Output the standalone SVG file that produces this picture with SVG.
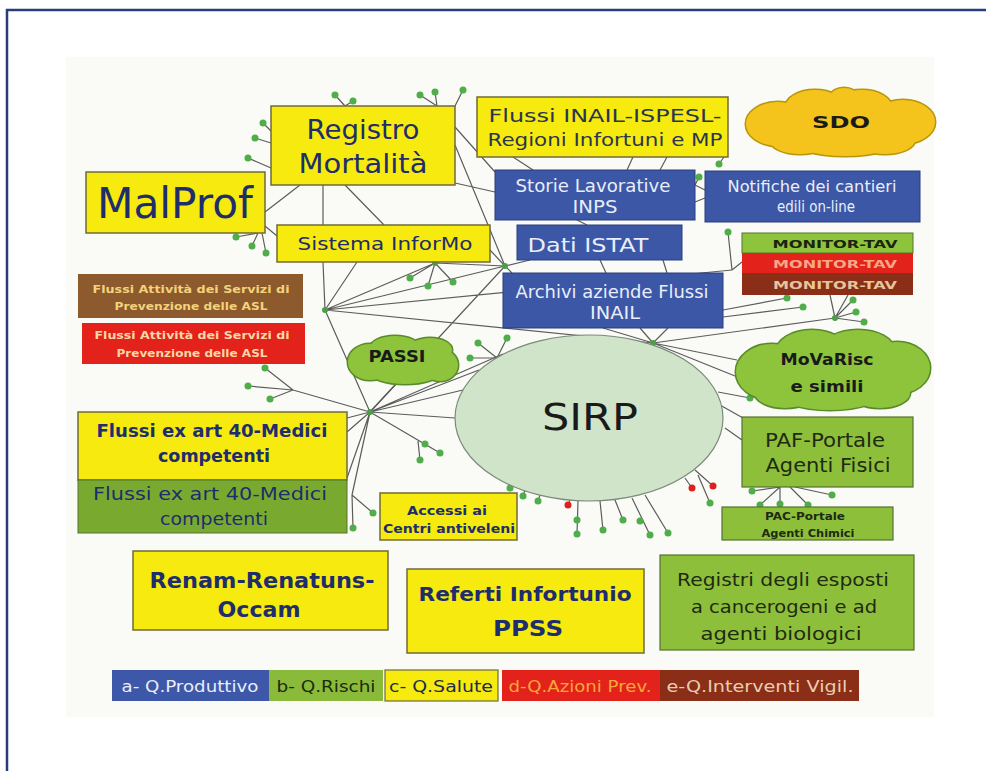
<svg xmlns="http://www.w3.org/2000/svg" width="986" height="771" viewBox="0 0 986 771">
<style>
text{font-family:"DejaVu Sans","Liberation Sans",sans-serif;text-anchor:middle}
.ln{stroke:#5c5c5c;stroke-width:1.2;fill:none}
.dot{fill:#4fae4a}
.hub{fill:#4a9e44}
.rdot{fill:#e0201c}
.yb{fill:#f6ea0e;stroke:#6f6b3a;stroke-width:1.5}
.bb{fill:#3d57a7;stroke:#2b3d7d;stroke-width:1}
.gb{fill:#8dbf3b;stroke:#56722f;stroke-width:1.2}
.ny{fill:#1e2d6b}
.wt{fill:#e9eef9}
.dk{fill:#1f2a12}
.b{font-weight:bold}
</style>
<defs>
<g id="sdoShape">
<ellipse cx="778" cy="124" rx="32" ry="22"/>
<ellipse cx="815" cy="108" rx="30" ry="18"/>
<ellipse cx="862" cy="108" rx="30" ry="18"/>
<ellipse cx="903" cy="122" rx="32" ry="22"/>
<ellipse cx="845" cy="138" rx="55" ry="18"/>
<ellipse cx="800" cy="140" rx="30" ry="14"/>
<ellipse cx="885" cy="140" rx="30" ry="14"/>
<ellipse cx="844" cy="96" rx="13" ry="8"/>
<ellipse cx="840" cy="123" rx="75" ry="22"/>
</g>
<g id="movShape">
<ellipse cx="772" cy="372" rx="36" ry="28"/>
<ellipse cx="812" cy="352" rx="36" ry="22"/>
<ellipse cx="858" cy="350" rx="36" ry="20"/>
<ellipse cx="897" cy="368" rx="33" ry="26"/>
<ellipse cx="830" cy="390" rx="55" ry="20"/>
<ellipse cx="880" cy="393" rx="30" ry="15"/>
<ellipse cx="785" cy="393" rx="30" ry="15"/>
<ellipse cx="834" cy="371" rx="70" ry="26"/>
</g>
<g id="passiShape">
<ellipse cx="370" cy="362" rx="22" ry="18"/>
<ellipse cx="395" cy="348" rx="25" ry="12"/>
<ellipse cx="430" cy="350" rx="22" ry="12"/>
<ellipse cx="440" cy="365" rx="18" ry="16"/>
<ellipse cx="405" cy="372" rx="35" ry="12"/>
<ellipse cx="404" cy="361" rx="40" ry="14"/>
</g>
</defs>
<rect x="0" y="0" width="986" height="771" fill="#ffffff"/>
<rect x="66" y="57" width="868" height="660" fill="#fafaf7"/>
<rect x="7" y="10" width="1000" height="800" fill="none" stroke="#2a3c7c" stroke-width="2.5"/>

<g id="connectors">
<path class="ln" d="M345 106L335 95M345 106L353 101M437 106L420 95M437 106L435 92M455 106L463 90M271 131L263 123M271 143L255 138M271 168L248 158M300 185L265 212M323 185L323 225M345 185L384 225M258 233L236 237M258 233L252 246M262 233L266 253M265 226L277 236M455 127L495 172M455 145L505 266M455 183L495 192M513 157L533 170M633 157L627 170M667 157L660 170M724 157L719 164M695 185L699 177M695 185L705 190M695 202L705 198M577 220L587 225M600 260L606 273M663 260L667 273"/>
<path class="ln" d="M435 263L410 278M435 263L428 286M435 263L453 282M435 263L505 266M325 310L435 263M490 250L505 266M323 262L325 310M357 262L325 310M325 310L505 266M325 310L732 270M325 310L653 343M325 310L370 412M505 266L530 260M505 266L512 273M505 266L370 412"/>
<path class="ln" d="M370 412L455 418M370 412L463 390M370 412L479 370M370 412L503 354M370 412L397 383M370 412L347 418M370 412L347 432M370 412L347 478M370 412L352 495M352 495L373 513M352 495L353 528M370 412L440 453M418 441L420 460M370 412L293 390M293 390L265 368M293 390L248 386M293 390L270 399"/>
<path class="ln" d="M653 343L603 328M653 343L640 328M653 343L668 328M653 343L835 318M653 343L737 360M653 343L740 378M728 232L732 270M732 270L742 262M835 318L830 295M835 318L848 295M835 318L853 300M835 318L856 312M835 318L864 322M723 317L803 307M723 310L787 298M720 405L743 418M725 428L742 440M718 392L750 398"/>
<path class="ln" d="M780 487L752 491M780 487L760 505M780 487L780 507M790 487L808 505M795 487L832 495M525 490L523 496M540 495L538 501M570 500L568 505M578 501L577 534M600 501L603 530M615 500L623 520M632 498L650 535M645 495L668 533M685 478L692 488M695 470L713 486M698 475L710 503M497 358L478 343M497 358L470 358M497 358L507 338"/>
<g class="dot">
<circle cx="335" cy="95" r="3.5"/><circle cx="353" cy="101" r="3.5"/><circle cx="420" cy="95" r="3.5"/><circle cx="435" cy="92" r="3.5"/><circle cx="463" cy="90" r="3.5"/>
<circle cx="263" cy="123" r="3.5"/><circle cx="255" cy="138" r="3.5"/><circle cx="248" cy="158" r="3.5"/>
<circle cx="236" cy="237" r="3.5"/><circle cx="252" cy="246" r="3.5"/><circle cx="266" cy="253" r="3.5"/>
<circle cx="719" cy="164" r="3.5"/><circle cx="699" cy="177" r="3.5"/>
<circle cx="410" cy="278" r="3.5"/><circle cx="428" cy="286" r="3.5"/><circle cx="453" cy="282" r="3.5"/>
<circle cx="373" cy="513" r="3.5"/><circle cx="353" cy="528" r="3.5"/><circle cx="425" cy="444" r="3.5"/><circle cx="440" cy="453" r="3.5"/><circle cx="420" cy="460" r="3.5"/>
<circle cx="265" cy="368" r="3.5"/><circle cx="248" cy="386" r="3.5"/><circle cx="270" cy="399" r="3.5"/>
<circle cx="728" cy="232" r="3.5"/><circle cx="853" cy="300" r="3.5"/><circle cx="856" cy="312" r="3.5"/><circle cx="864" cy="322" r="3.5"/><circle cx="803" cy="307" r="3.5"/><circle cx="787" cy="298" r="3.5"/><circle cx="750" cy="398" r="3.5"/>
<circle cx="752" cy="491" r="3.5"/><circle cx="760" cy="505" r="3.5"/><circle cx="780" cy="504" r="3.5"/><circle cx="808" cy="505" r="3.5"/><circle cx="832" cy="495" r="3.5"/>
<circle cx="510" cy="488" r="3.5"/><circle cx="523" cy="496" r="3.5"/><circle cx="538" cy="501" r="3.5"/><circle cx="577" cy="520" r="3.5"/><circle cx="577" cy="534" r="3.5"/><circle cx="603" cy="530" r="3.5"/><circle cx="623" cy="520" r="3.5"/><circle cx="640" cy="521" r="3.5"/><circle cx="650" cy="535" r="3.5"/><circle cx="668" cy="533" r="3.5"/><circle cx="710" cy="503" r="3.5"/>
<circle cx="478" cy="343" r="3.5"/><circle cx="470" cy="358" r="3.5"/><circle cx="507" cy="338" r="3.5"/>
</g>
<g class="hub">
<circle cx="435" cy="263" r="3"/><circle cx="325" cy="310" r="3"/><circle cx="370" cy="412" r="3"/><circle cx="505" cy="266" r="3"/><circle cx="653" cy="343" r="3"/><circle cx="835" cy="318" r="3"/>
</g>
<g class="rdot">
<circle cx="568" cy="505" r="3.5"/><circle cx="692" cy="488" r="3.5"/><circle cx="713" cy="486" r="3.5"/>
</g>
</g>

<g id="malprof"><rect class="yb" x="86" y="172" width="179" height="61"/><text class="ny" x="175" y="218" font-size="42" textLength="156" lengthAdjust="spacingAndGlyphs">MalProf</text></g>
<g id="registro"><rect class="yb" x="271" y="106" width="184" height="79"/><text class="ny" x="363" y="139" font-size="27" textLength="113" lengthAdjust="spacingAndGlyphs">Registro</text><text class="ny" x="363" y="173" font-size="27" textLength="129" lengthAdjust="spacingAndGlyphs">Mortalità</text></g>
<g id="flussi-inail"><rect class="yb" x="477" y="97" width="251" height="60"/><text fill="#2a3550" x="605" y="122" font-size="17" textLength="233" lengthAdjust="spacingAndGlyphs">Flussi INAIL-ISPESL-</text><text fill="#2a3550" x="605" y="146" font-size="17" textLength="235" lengthAdjust="spacingAndGlyphs">Regioni Infortuni e MP</text></g>
<g id="sdo"><use href="#sdoShape" fill="#f5c41c" stroke="#b8960a" stroke-width="3"/><use href="#sdoShape" fill="#f5c41c" stroke="none"/><text class="b" fill="#1a1a1a" x="841" y="128" font-size="16" textLength="58" lengthAdjust="spacingAndGlyphs">SDO</text></g>
<g id="storie"><rect class="bb" x="495" y="170" width="200" height="50"/><text class="wt" x="593" y="192" font-size="17" textLength="155" lengthAdjust="spacingAndGlyphs">Storie Lavorative</text><text class="wt" x="595" y="213" font-size="17" textLength="45" lengthAdjust="spacingAndGlyphs">INPS</text></g>
<g id="notifiche"><rect class="bb" x="705" y="171" width="215" height="51"/><text class="wt" x="812" y="192" font-size="15" textLength="169" lengthAdjust="spacingAndGlyphs">Notifiche dei cantieri</text><text class="wt" x="816" y="212" font-size="15" textLength="78" lengthAdjust="spacingAndGlyphs">edili on-line</text></g>
<g id="sistema"><rect class="yb" x="277" y="225" width="213" height="37"/><text class="ny" x="385" y="250" font-size="18" textLength="175" lengthAdjust="spacingAndGlyphs">Sistema InforMo</text></g>
<g id="istat"><rect class="bb" x="517" y="225" width="165" height="35"/><text class="wt" x="588" y="252" font-size="20" textLength="121" lengthAdjust="spacingAndGlyphs">Dati ISTAT</text></g>
<g id="monitor">
<rect x="742" y="233" width="171" height="20" fill="#8dc43c" stroke="#56722f" stroke-width="1"/><text class="b" fill="#1a2410" x="835" y="248" font-size="11" textLength="125" lengthAdjust="spacingAndGlyphs">MONITOR-TAV</text>
<rect x="742" y="253" width="171" height="20" fill="#e3221c"/><text class="b" fill="#f6a884" x="835" y="268" font-size="11" textLength="124" lengthAdjust="spacingAndGlyphs">MONITOR-TAV</text>
<rect x="742" y="273" width="171" height="22" fill="#8b2e18"/><text class="b" fill="#e6c49c" x="835" y="289" font-size="11" textLength="124" lengthAdjust="spacingAndGlyphs">MONITOR-TAV</text>
</g>
<g id="archivi"><rect class="bb" x="503" y="273" width="220" height="55"/><text class="wt" x="612" y="298" font-size="17" textLength="193" lengthAdjust="spacingAndGlyphs">Archivi aziende Flussi</text><text class="wt" x="615" y="319" font-size="17" textLength="50" lengthAdjust="spacingAndGlyphs">INAIL</text></g>
<g id="asl-brown"><rect x="78" y="274" width="225" height="44" fill="#8c5a2c"/><text class="b" fill="#f3d27c" x="191" y="293" font-size="11" textLength="197" lengthAdjust="spacingAndGlyphs">Flussi Attività dei Servizi di</text><text class="b" fill="#f3d27c" x="191" y="310" font-size="11" textLength="153" lengthAdjust="spacingAndGlyphs">Prevenzione delle ASL</text></g>
<g id="asl-red"><rect x="82" y="323" width="223" height="41" fill="#e3221c"/><text class="b" fill="#f7d8a4" x="192" y="339" font-size="11" textLength="195" lengthAdjust="spacingAndGlyphs">Flussi Attività dei Servizi di</text><text class="b" fill="#f7d8a4" x="192" y="357" font-size="11" textLength="151" lengthAdjust="spacingAndGlyphs">Prevenzione delle ASL</text></g>
<g id="passi"><use href="#passiShape" fill="#8dc43c" stroke="#5b8a2a" stroke-width="3"/><use href="#passiShape" fill="#8dc43c" stroke="none"/><text class="b" fill="#1a1a1a" x="397" y="362" font-size="15" textLength="57" lengthAdjust="spacingAndGlyphs">PASSI</text></g>
<g id="sirp"><ellipse cx="589" cy="418" rx="134" ry="83" fill="#cfe4c8" stroke="#7a8a7a" stroke-width="1.2"/><text fill="#1a1a1a" x="590" y="430" font-size="38" textLength="96" lengthAdjust="spacingAndGlyphs">SIRP</text></g>
<g id="movarisc"><use href="#movShape" fill="#8dc43c" stroke="#5b8a2a" stroke-width="3"/><use href="#movShape" fill="#8dc43c" stroke="none"/><text class="b" fill="#1a1a1a" x="827" y="365" font-size="16" textLength="93" lengthAdjust="spacingAndGlyphs">MoVaRisc</text><text class="b" fill="#1a1a1a" x="827" y="392" font-size="16" textLength="73" lengthAdjust="spacingAndGlyphs">e simili</text></g>
<g id="medici-yellow"><rect class="yb" x="78" y="412" width="269" height="68"/><text class="ny b" x="212" y="437" font-size="18" textLength="231" lengthAdjust="spacingAndGlyphs">Flussi ex art 40-Medici</text><text class="ny b" x="214" y="462" font-size="18" textLength="112" lengthAdjust="spacingAndGlyphs">competenti</text></g>
<g id="medici-green"><rect x="78" y="480" width="269" height="53" fill="#79aa2f" stroke="#56722f" stroke-width="1"/><text class="ny" x="210" y="500" font-size="18" textLength="234" lengthAdjust="spacingAndGlyphs">Flussi ex art 40-Medici</text><text class="ny" x="214" y="525" font-size="18" textLength="108" lengthAdjust="spacingAndGlyphs">competenti</text></g>
<g id="paf"><rect class="gb" x="742" y="417" width="171" height="70"/><text class="dk" x="825" y="447" font-size="20" textLength="120" lengthAdjust="spacingAndGlyphs">PAF-Portale</text><text class="dk" x="828" y="472" font-size="20" textLength="125" lengthAdjust="spacingAndGlyphs">Agenti Fisici</text></g>
<g id="accessi"><rect class="yb" x="380" y="493" width="137" height="47"/><text class="ny b" x="447" y="515" font-size="12" textLength="80" lengthAdjust="spacingAndGlyphs">Accessi ai</text><text class="ny b" x="449" y="533" font-size="12" textLength="132" lengthAdjust="spacingAndGlyphs">Centri antiveleni</text></g>
<g id="pac"><rect class="gb" x="722" y="507" width="171" height="33"/><text class="dk b" x="805" y="520" font-size="11" textLength="80" lengthAdjust="spacingAndGlyphs">PAC-Portale</text><text class="dk b" x="808" y="537" font-size="11" textLength="93" lengthAdjust="spacingAndGlyphs">Agenti Chimici</text></g>
<g id="renam"><rect class="yb" x="133" y="551" width="255" height="79"/><text class="ny b" x="262" y="588" font-size="22" textLength="225" lengthAdjust="spacingAndGlyphs">Renam-Renatuns-</text><text class="ny b" x="259" y="617" font-size="22" textLength="83" lengthAdjust="spacingAndGlyphs">Occam</text></g>
<g id="referti"><rect class="yb" x="407" y="569" width="237" height="84"/><text class="ny b" x="525" y="601" font-size="20" textLength="213" lengthAdjust="spacingAndGlyphs">Referti Infortunio</text><text class="ny b" x="528" y="636" font-size="22" textLength="70" lengthAdjust="spacingAndGlyphs">PPSS</text></g>
<g id="registri"><rect class="gb" x="660" y="555" width="254" height="95"/><text class="dk" x="783" y="586" font-size="17" textLength="212" lengthAdjust="spacingAndGlyphs">Registri degli esposti</text><text class="dk" x="784" y="613" font-size="17" textLength="186" lengthAdjust="spacingAndGlyphs">a cancerogeni e ad</text><text class="dk" x="781" y="640" font-size="17" textLength="161" lengthAdjust="spacingAndGlyphs">agenti biologici</text></g>
<g id="legend">
<rect x="112" y="670" width="157" height="31" fill="#3d58a8"/><text fill="#e8eefa" x="190" y="692" font-size="15" textLength="137" lengthAdjust="spacingAndGlyphs">a- Q.Produttivo</text>
<rect x="269" y="670" width="114" height="31" fill="#8aba3a"/><text fill="#1c2a10" x="326" y="692" font-size="15" textLength="99" lengthAdjust="spacingAndGlyphs">b- Q.Rischi</text>
<rect x="385" y="670" width="113" height="31" fill="#f6ea0e" stroke="#6f6b3a" stroke-width="1.2"/><text fill="#1c2b4e" x="441" y="692" font-size="15" textLength="104" lengthAdjust="spacingAndGlyphs">c- Q.Salute</text>
<rect x="502" y="670" width="158" height="31" fill="#e3221c"/><text fill="#f7a63a" x="580" y="692" font-size="15" textLength="143" lengthAdjust="spacingAndGlyphs">d-Q.Azioni Prev.</text>
<rect x="660" y="670" width="199" height="31" fill="#8b2e18"/><text fill="#e8cdb0" x="760" y="692" font-size="15" textLength="187" lengthAdjust="spacingAndGlyphs">e-Q.Interventi Vigil.</text>
</g>
</svg>
